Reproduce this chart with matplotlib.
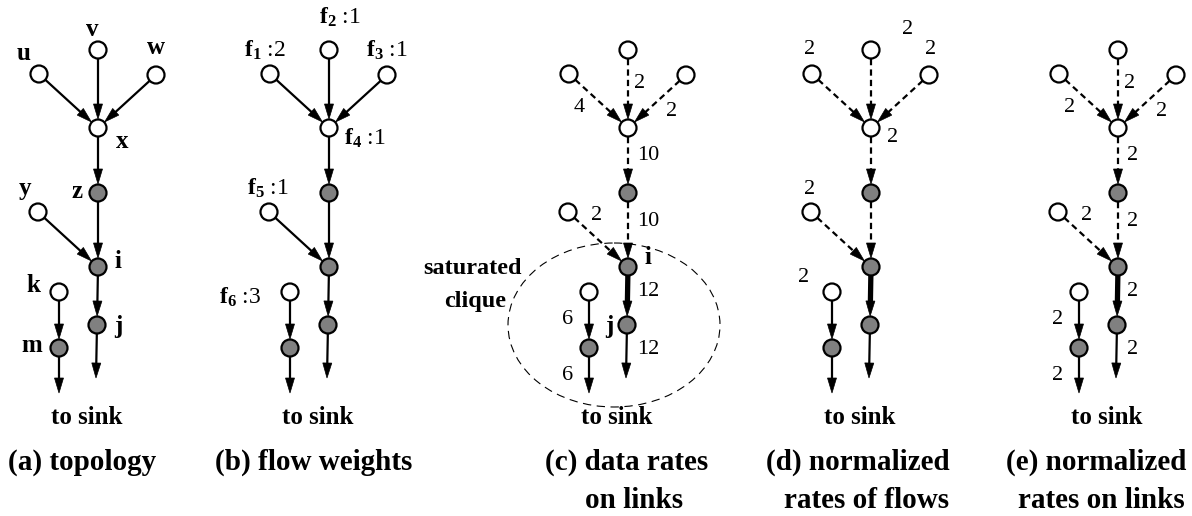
import matplotlib
matplotlib.use('Agg')
import matplotlib.pyplot as plt
from matplotlib.patches import Circle, Ellipse, Polygon
import numpy as np

plt.rcParams['font.family'] = 'Liberation Serif'
plt.rcParams['mathtext.fontset'] = 'custom'
plt.rcParams['mathtext.rm'] = 'Liberation Serif'
plt.rcParams['mathtext.bf'] = 'Liberation Serif:bold'
plt.rcParams['lines.scale_dashes'] = False

# tree layout, relative to the column of each panel (pixels)
node_pos = {'u': (-59, 74), 'v': (0, 50), 'w': (58, 75), 'x': (0, 128),
            'z': (0, 193), 'y': (-60, 212), 'i': (0, 267), 'k': (-39, 292),
            'j': (-1, 325), 'm': (-39, 348), 's1': (-2, 378), 's2': (-39, 393)}
gray_nodes = ['z', 'i', 'j', 'm']
links = [('u', 'x'), ('v', 'x'), ('w', 'x'), ('x', 'z'), ('z', 'i'),
         ('y', 'i'), ('i', 'j'), ('j', 's1'), ('k', 'm'), ('m', 's2')]
n_dashed = 6   # first links drawn dashed in (c)-(e)

panel_cols = [98, 329, 628, 871, 1118]
captions = [['(a) topology'], ['(b) flow weights'], ['(c) data rates', 'on links'],
            ['(d) normalized', 'rates of flows'], ['(e) normalized', 'rates on links']]
caption_dx = [[-16], [-15], [-1, 6], [-13, -4], [-22, -17]]

# (a) node names
node_names = ['u', 'v', 'w', 'x', 'z', 'y', 'i', 'k', 'j', 'm']
name_off = [(-74, 54), (-6, 30), (58, 47), (24, 142), (-21, 191), (-73, 189),
            (20, 262), (-65, 285), (20, 327), (-66, 346)]

# (b) flow weights, (d) normalized rates of flows
flow_nodes = ['u', 'v', 'w', 'x', 'y', 'k']
flow_ids = [1, 2, 3, 4, 5, 6]
flow_weights = [2, 1, 1, 1, 1, 3]
flow_off_b = [(-64, 50), (11, 17), (58, 50), (36, 138), (-61, 188), (-89, 297)]
flow_rates_d = [2, 2, 2, 2, 2, 2]
flow_off_d = [(-61, 49), (37, 30), (60, 49), (22, 138), (-61, 189), (-67, 277)]

# (c) data rates on links, (e) normalized rates on links (same order as links)
link_rates_c = [4, 2, 2, 10, 10, 2, 12, 12, 6, 6]
link_rates_e = [2, 2, 2, 2, 2, 2, 2, 2, 2, 2]
link_lab = [(-43, 107, 'right'), (6, 84, 'left'), (38, 111, 'left'), (9, 155, 'left'),
            (9, 222, 'left'), (-37, 216, 'left'), (9, 292, 'left'), (9, 350, 'left'),
            (-55, 319, 'right'), (-55, 376, 'right')]

R = 8.5


def arrow(ax, p, q, r0, r1, lw=1.6, dashed=False):
    p = np.array(p, float)
    q = np.array(q, float)
    d = (q - p) / np.hypot(*(q - p))
    n = np.array([-d[1], d[0]])
    a = p + d * r0
    tip = q - d * r1
    base = tip - d * 15
    kw = dict(dashes=(4.5, 3)) if dashed else {}
    ax.plot([a[0], base[0] + d[0]], [a[1], base[1] + d[1]], color='k', lw=lw,
            solid_capstyle='butt', zorder=2, **kw)
    ax.add_patch(Polygon([tip, base + n * 4.5, base - n * 4.5], closed=True,
                         fc='k', ec='k', lw=0.5, zorder=3))


fig = plt.figure(figsize=(11.92, 5.16), dpi=100)
ax = fig.add_axes([0, 0, 1, 1])
ax.set_xlim(0, 1192)
ax.set_ylim(516, 0)
ax.axis('off')

for p, col in enumerate(panel_cols):
    P = {k: (col + v[0], v[1]) for k, v in node_pos.items()}
    for li, (s, t) in enumerate(links):
        dashed = p >= 2 and li < n_dashed
        lw = 3.8 if (p >= 2 and (s, t) == ('i', 'j')) else 1.6
        r1 = 0 if t.startswith('s') else R + 0.5
        arrow(ax, P[s], P[t], R, r1, lw=lw, dashed=dashed)
    for k in node_names:
        fc = '#808080' if k in gray_nodes else 'white'
        ax.add_patch(Circle(P[k], R, fc=fc, ec='k', lw=1.6, zorder=4))
    ax.text(col - 11, 418, 'to sink', ha='center', va='center', fontsize=18,
            fontweight='bold')
    for li, line in enumerate(captions[p]):
        ax.text(col + caption_dx[p][li], 462 + 38 * li, line, ha='center',
                va='center', fontsize=21, fontweight='bold')

# (a) names
for name, (dx, y) in zip(node_names, name_off):
    ax.text(panel_cols[0] + dx, y, name, ha='center', va='center', fontsize=18,
            fontweight='bold')

# (b) flow weights
for fid, wgt, (dx, y) in zip(flow_ids, flow_weights, flow_off_b):
    ax.text(panel_cols[1] + dx, y, r'$\mathbf{f_{%d}}$ :%d' % (fid, wgt), ha='center',
            va='center', fontsize=17)

# (c) rates on links + saturated clique
for val, (dx, y, ha) in zip(link_rates_c, link_lab):
    ax.text(panel_cols[2] + dx, y, str(val), ha=ha, va='center', fontsize=16)
ax.text(panel_cols[2] + 20, 257, 'i', ha='center', va='center', fontsize=18,
        fontweight='bold')
ax.text(panel_cols[2] - 19, 327, 'j', ha='center', va='center', fontsize=18,
        fontweight='bold')
ax.add_patch(Ellipse((panel_cols[2] - 14, 325), 212, 164, fill=False, ec='k',
                     lw=0.8, ls=(0, (6, 4)), zorder=1))
ax.text(473, 268, 'saturated', ha='center', va='center', fontsize=17.5, fontweight='bold')
ax.text(475, 302, 'clique', ha='center', va='center', fontsize=17.5, fontweight='bold')

# (d) normalized rates of flows
for val, (dx, y) in zip(flow_rates_d, flow_off_d):
    ax.text(panel_cols[3] + dx, y, str(val), ha='center', va='center', fontsize=16)

# (e) normalized rates on links
for val, (dx, y, ha) in zip(link_rates_e, link_lab):
    ax.text(panel_cols[4] + dx, y, str(val), ha=ha, va='center', fontsize=16)

fig.savefig('out.png', dpi=100)
